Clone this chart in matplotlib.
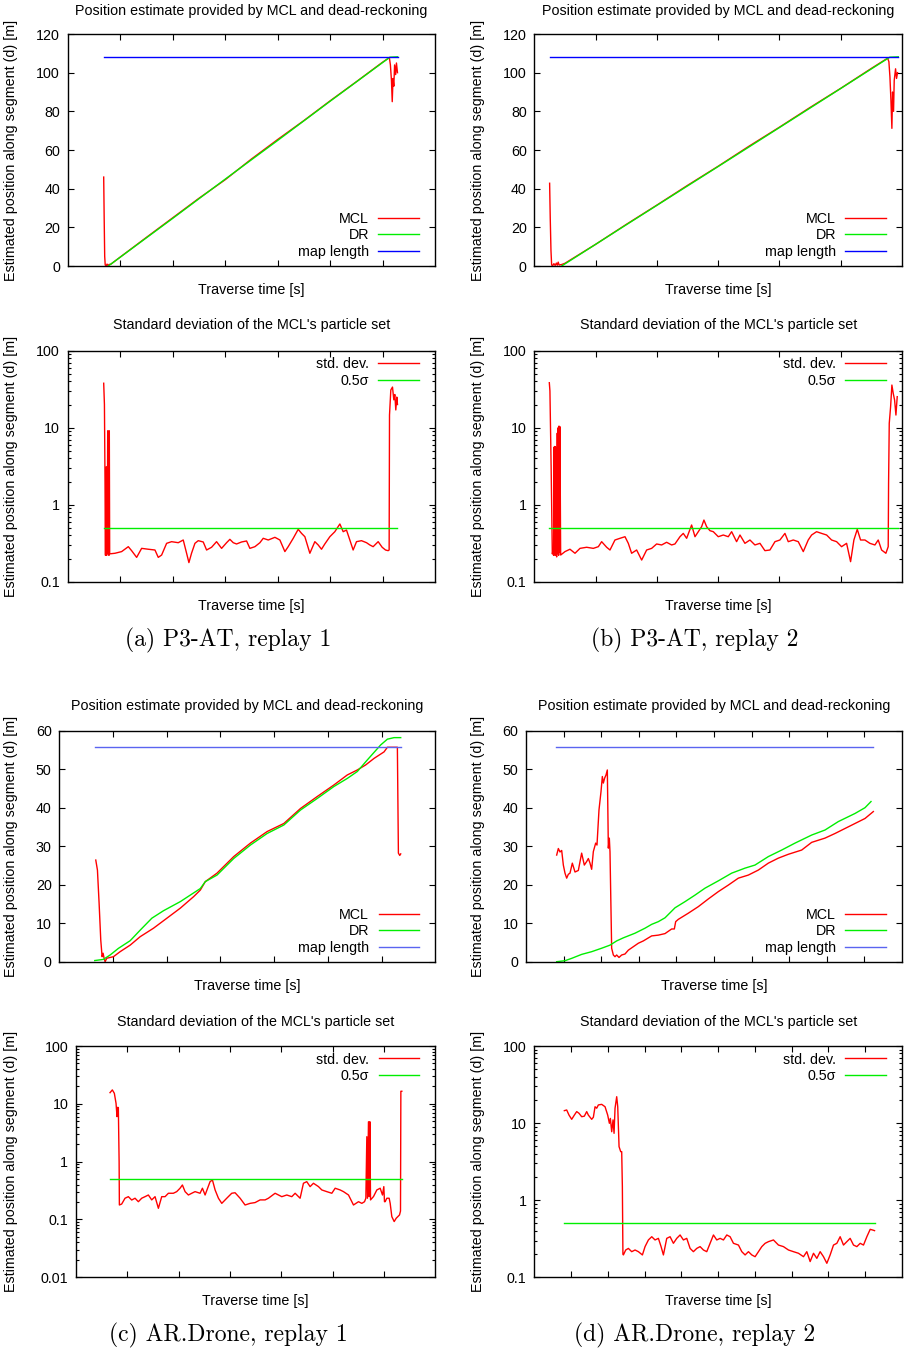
import matplotlib
matplotlib.use("Agg")
import matplotlib.pyplot as plt
from matplotlib.ticker import NullFormatter, LogLocator

plt.rcParams['font.family'] = ['Liberation Sans', 'DejaVu Sans']
plt.rcParams['font.size'] = 10.3

RED = '#ff0000'
GREEN = '#00ee00'
BLUE = '#0000ff'
LBLUE = '#5a64f0'

# ---------------- (a) P3-AT, replay 1 ----------------
a_mcl_t = [6.86, 6.95, 7.05, 7.15, 7.35, 7.5, 7.65, 7.9, 8.2, 10, 15, 20, 25, 30, 35, 40, 45,
           50, 55, 60, 61.3, 61.5, 61.7, 61.85, 62.0, 62.15, 62.3, 62.5, 62.65, 62.85]
a_mcl = [46, 25, 5, 0.5, 0.2, 1.0, 0.3, 0.8, 0.9, 4.6, 14.8, 24.9, 35.0, 44.6, 55.3, 65.4, 75.2,
         85.4, 95.3, 105.4, 107.8, 104, 96, 85, 97, 93, 104, 99, 105, 100]
a_dr_t = [7.74, 20, 30, 40, 50, 61.4, 62.86]
a_dr = [0, 24.6, 44.9, 64.9, 85.2, 108, 108.2]
a_map_t = [6.86, 62.86]
a_map_len = 108.2

a_std_t = [6.86, 7.0, 7.15, 7.2, 7.25, 7.3, 7.36, 7.42, 7.48, 7.55, 7.62, 7.7, 7.78, 7.86, 7.93, 8.0,
           9.01, 10.28, 11.55, 12.18, 13.14, 14.09, 15.36, 16.63, 17.26, 17.9, 18.85, 19.8, 21.07,
           22.02, 22.66, 23.1, 23.6, 24.25, 24.88, 25.83, 26.47, 27.42, 28.37, 29.33, 30.28, 30.91,
           31.55, 32.18, 33.14, 34.09, 34.72, 35.68, 36.63, 37.26, 38.22, 39.49, 40.44, 41.39, 42.02,
           42.98, 43.93, 44.57, 45.2, 46.15, 47.1, 47.74, 48.37, 49.0, 49.96, 50.91, 51.87, 52.5,
           53.13, 53.77, 54.4, 55.04, 55.99, 56.95, 57.58, 58.21, 59.17, 59.93, 60.57, 61.07, 61.26,
           61.33, 61.58, 61.9, 62.15, 62.34, 62.53, 62.72, 62.85]
a_std = [37.8, 20, 0.9, 0.22, 3.0, 0.23, 3.1, 0.22, 3.0, 0.24, 9.1, 0.23, 9.0, 0.22, 9.1, 0.23,
         0.234, 0.246, 0.285, 0.253, 0.207, 0.271, 0.264, 0.258, 0.207, 0.222, 0.315, 0.331, 0.321,
         0.348, 0.234, 0.177, 0.234, 0.315, 0.341, 0.328, 0.258, 0.280, 0.331, 0.271, 0.321, 0.355,
         0.321, 0.309, 0.328, 0.338, 0.271, 0.285, 0.321, 0.366, 0.348, 0.377, 0.348, 0.246, 0.285,
         0.366, 0.479, 0.424, 0.384, 0.234, 0.331, 0.300, 0.264, 0.309, 0.384, 0.446, 0.562, 0.446,
         0.469, 0.348, 0.258, 0.331, 0.341, 0.321, 0.300, 0.285, 0.331, 0.280, 0.258, 0.253, 0.258,
         14.6, 30.9, 33.7, 23, 27, 17, 25, 20]
a_sig_t = [6.86, 62.85]

# ---------------- (b) P3-AT, replay 2 ----------------
b_mcl_t = [2.5, 2.6, 2.72, 2.83, 3.0, 3.2, 3.4, 3.6, 3.75, 3.9, 4.05, 4.5, 5, 10, 15, 20, 25, 30,
           35, 40, 45, 50, 55, 57.65, 57.86, 58.03, 58.19, 58.35, 58.46, 58.62, 58.73, 58.95,
           59.11, 59.27]
b_mcl = [42.8, 25, 8, 0.5, 0.2, 1.2, 0.3, 1.5, 0.4, 2.0, 0.5, 0.8, 1.4, 11.2, 21.5, 31.5, 41.7,
         51.6, 61.9, 71.8, 82.0, 91.9, 102.2, 107.5, 105.7, 97.9, 86, 71.2, 90, 80, 96, 102, 97, 100]
b_dr_t = [4.47, 15, 25, 35, 45, 58.0, 59.4]
b_dr = [0, 21.3, 41.4, 61.5, 81.7, 108, 108.2]
b_map_t = [2.5, 59.4]
b_map_len = 108.2

b_std_t = [2.45, 2.55, 2.75, 2.94, 3.05, 3.15, 3.21, 3.27, 3.33, 3.4, 3.47, 3.55, 3.65, 3.75, 3.82,
           3.9, 3.97, 4.03, 4.1, 4.18, 4.3, 5.01, 5.82, 6.64, 7.46, 8.54, 9.63, 10.45, 10.99, 11.81,
           12.35, 13.16, 13.98, 14.80, 15.34, 15.88, 16.70, 17.52, 18.33, 19.15, 19.96, 20.78,
           21.59, 22.41, 22.95, 23.77, 24.31, 24.86, 25.67, 26.22, 26.76, 27.30, 27.68, 28.12,
           28.66, 29.21, 30.02, 30.84, 31.65, 32.20, 33.01, 33.56, 34.37, 35.19, 36.00, 36.82,
           37.63, 38.45, 39.27, 40.08, 40.90, 41.44, 42.26, 43.07, 43.89, 44.70, 45.25, 46.06,
           46.88, 47.70, 48.51, 49.33, 50.14, 50.96, 51.61, 52.15, 52.70, 53.24, 53.95, 54.76,
           55.58, 56.12, 56.67, 57.37, 57.75, 57.81, 57.92, 58.14, 58.35, 58.57, 58.79, 59.01, 59.22]
b_std = [38.4, 30, 3, 0.23, 0.25, 0.22, 5.6, 0.23, 5.7, 0.22, 5.6, 0.24, 0.21, 8.5, 0.23,
         10.0, 0.22, 10.5, 0.24, 10.3, 0.222, 0.246, 0.264, 0.234, 0.271, 0.280, 0.271, 0.285,
         0.331, 0.280, 0.258, 0.348, 0.366, 0.384, 0.315, 0.234, 0.258, 0.191, 0.258, 0.271,
         0.309, 0.300, 0.325, 0.300, 0.309, 0.384, 0.424, 0.366, 0.545, 0.384, 0.446, 0.518,
         0.632, 0.518, 0.460, 0.446, 0.384, 0.404, 0.384, 0.446, 0.331, 0.404, 0.315, 0.348,
         0.300, 0.315, 0.253, 0.258, 0.331, 0.348, 0.424, 0.331, 0.348, 0.331, 0.246, 0.348,
         0.404, 0.446, 0.424, 0.404, 0.348, 0.331, 0.285, 0.315, 0.182, 0.348, 0.479, 0.348,
         0.348, 0.315, 0.300, 0.348, 0.258, 0.234, 0.285, 1.89, 11.4, 18.7, 35.8, 27.9, 22.9,
         14.6, 25.3]
b_sig_t = [2.45, 59.4]

# ---------------- (c) AR.Drone, replay 1 ----------------
c_mcl_t = [6.79, 7.10, 7.41, 7.72, 7.97, 8.15, 8.34, 8.53, 8.84, 10.08, 11.32, 13.19, 15.06, 17.54,
           20.03, 22.52, 25.01, 26.25, 27.18, 29.36, 32.47, 35.58, 38.69, 41.80, 44.91, 48.02,
           51.12, 53.61, 55.48, 57.03, 58.59, 60.46, 61.08, 62.94, 63.13, 63.38, 63.56]
c_mcl = [26.4, 23.8, 15.2, 5.6, 1.3, 2.2, 0.9, 0.0, 0.9, 1.3, 2.6, 4.3, 6.5, 8.7, 11.3, 13.9,
         16.9, 18.6, 20.8, 23.0, 27.3, 30.8, 33.8, 35.9, 39.8, 42.9, 45.9, 48.5, 49.8, 51.1,
         52.8, 54.5, 55.7, 55.7, 28.2, 27.6, 28.0]
c_dr_t = [6.60, 8.21, 9.46, 11.01, 13.19, 15.06, 17.23, 19.41, 22.52, 26.25, 27.18, 29.36, 32.47,
          35.58, 38.69, 41.80, 44.91, 48.02, 51.12, 53.61, 55.48, 57.34, 59.83, 61.08, 62.32, 63.56]
c_dr = [0.3, 0.6, 1.74, 3.47, 5.45, 8.2, 11.3, 13.25, 15.6, 19.0, 20.8, 22.5, 26.8, 30.3, 33.3,
        35.5, 39.4, 42.4, 45.5, 47.6, 49.4, 52.4, 56.3, 57.8, 58.2, 58.2]
c_map_t = [6.60, 63.56]
c_map_len = 55.8

c_std_t = [6.63, 7.08, 7.47, 7.80, 7.99, 8.12, 8.25, 8.40, 8.45, 8.90, 9.55, 10.20, 10.85, 11.50,
           12.15, 12.80, 13.45, 14.10, 14.75, 15.40, 16.05, 16.70, 17.35, 18.00, 18.97, 19.62,
           20.27, 20.73, 21.25, 21.90, 22.55, 23.20, 24.17, 24.63, 25.15, 26.12, 26.58, 27.10,
           27.75, 28.40, 29.37, 30.34, 30.99, 31.97, 32.94, 33.92, 34.89, 35.87, 36.84, 37.49,
           38.79, 40.09, 41.07, 42.04, 42.69, 43.66, 44.31, 44.96, 45.61, 46.26, 47.24, 47.89,
           48.86, 49.84, 50.49, 51.46, 52.11, 53.09, 54.06, 55.04, 55.69, 56.21, 56.47, 56.66,
           56.79, 56.98, 57.12, 57.25, 57.38, 57.96, 58.61, 59.26, 59.71, 59.97, 60.10, 60.23,
           60.56, 61.01, 61.21, 61.53, 61.99, 62.38, 62.70, 63.03, 63.22, 63.29, 63.48]
c_std = [15.6, 17.4, 15.2, 10.2, 6.0, 8.7, 8.6, 1.0, 0.178, 0.185, 0.233, 0.248, 0.217, 0.233,
         0.203, 0.233, 0.248, 0.265, 0.218, 0.248, 0.156, 0.248, 0.248, 0.284, 0.284, 0.303,
         0.347, 0.395, 0.303, 0.265, 0.284, 0.303, 0.284, 0.347, 0.265, 0.451, 0.482, 0.324,
         0.233, 0.190, 0.233, 0.284, 0.290, 0.233, 0.178, 0.190, 0.196, 0.218, 0.218, 0.233,
         0.284, 0.248, 0.265, 0.248, 0.284, 0.233, 0.423, 0.451, 0.370, 0.423, 0.370, 0.324,
         0.303, 0.284, 0.347, 0.324, 0.303, 0.265, 0.178, 0.203, 0.190, 0.203, 0.233, 2.7,
         0.233, 4.9, 0.249, 4.9, 0.218, 0.249, 0.324, 0.347, 0.265, 0.370, 0.203, 0.203,
         0.233, 0.233, 0.190, 0.112, 0.092, 0.105, 0.112, 0.120, 0.140, 16.5, 16.5]
c_sig_t = [6.63, 63.5]

# ---------------- (d) AR.Drone, replay 2 ----------------
d_mcl_t = [8.16, 8.60, 9.04, 9.49, 9.93, 10.37, 10.82, 11.26, 11.70, 12.32, 13.03, 13.92, 14.80,
           15.51, 16.13, 16.58, 17.02, 17.46, 17.91, 18.53, 18.88, 19.41, 19.95, 20.30, 20.57,
           20.92, 21.28, 21.63, 21.90, 22.16, 22.34, 22.78, 23.23, 23.67, 24.11, 24.73, 25.44,
           26.33, 27.22, 28.55, 29.88, 31.21, 33.42, 35.19, 36.97, 38.74, 39.45, 39.81, 40.51,
           43.17, 45.83, 48.49, 51.15, 53.81, 56.47, 59.13, 61.79, 64.45, 67.11, 69.77, 73.32,
           75.98, 79.52, 82.18, 84.84, 87.50, 90.16, 92.38]
d_mcl = [27.7, 29.4, 28.5, 28.9, 25.1, 23.0, 21.7, 22.7, 23.0, 25.6, 23.3, 23.7, 28.2, 25.1,
         26.0, 26.8, 25.6, 24.0, 28.6, 30.8, 30.3, 39.4, 44.2, 48.1, 46.4, 47.7, 48.5, 49.8,
         29.5, 32.1, 28.5, 3.5, 1.74, 1.3, 1.74, 1.1, 1.74, 2.0, 3.0, 3.9, 4.8, 5.4, 6.7, 6.9,
         7.3, 8.5, 8.5, 10.4, 11.0, 12.6, 14.3, 16.3, 18.2, 19.9, 21.7, 22.5, 23.8, 25.6, 26.9,
         27.9, 29.0, 31.0, 32.1, 33.3, 34.6, 35.9, 37.2, 39.0]
d_dr_t = [8.16, 10.37, 12.15, 14.80, 17.46, 20.12, 22.34, 24.11, 25.89, 28.99, 31.65, 33.42,
          35.19, 36.97, 39.63, 42.29, 44.95, 47.61, 51.15, 54.70, 58.24, 60.90, 64.45, 68.00,
          71.54, 75.98, 79.52, 83.07, 87.50, 90.16, 91.76]
d_dr = [0, 0.26, 0.87, 1.9, 2.6, 3.5, 4.3, 5.4, 6.2, 7.4, 8.7, 9.7, 10.4, 11.4, 14.0, 15.6,
        17.3, 19.1, 21.0, 23.0, 24.3, 25.1, 27.3, 29.0, 30.8, 32.9, 34.2, 36.4, 38.5, 40.0, 41.6]
d_map_t = [8.0, 92.4]
d_map_len = 55.8

d_std_t = [8.17, 8.81, 9.44, 10.17, 10.89, 11.53, 12.16, 12.89, 13.61, 14.25, 14.70, 15.61,
           16.06, 16.52, 16.97, 17.42, 18.33, 19.24, 19.96, 20.42, 20.69, 21.05, 21.41, 21.69,
           21.96, 22.41, 22.69, 23.05, 23.50, 23.77, 23.95, 24.1, 24.23, 24.86, 25.59, 26.49,
           27.40, 28.31, 29.40, 30.12, 31.03, 31.94, 32.84, 33.75, 34.48, 35.11, 36.02, 36.93,
           37.83, 38.74, 39.65, 40.55, 41.46, 42.37, 43.27, 44.18, 45.09, 46.00, 46.90, 47.81,
           48.72, 49.62, 50.53, 51.44, 52.35, 53.25, 54.16, 55.52, 56.43, 57.33, 58.24, 59.15,
           60.05, 60.96, 61.87, 62.78, 63.68, 65.04, 66.40, 67.76, 69.12, 70.48, 71.84, 73.21,
           74.11, 75.02, 75.93, 76.84, 77.74, 78.65, 79.56, 80.46, 81.37, 82.28, 83.18, 84.09,
           85.00, 85.90, 86.81, 87.72, 88.63, 89.53, 90.44, 91.35, 91.98, 92.53]
d_std = [14.5, 14.8, 12.7, 11.2, 12.7, 14.1, 13.4, 12.1, 12.3, 14.1, 12.7, 11.2, 11.9, 16.3,
         15.6, 17.2, 17.5, 16.3, 12.7, 9.94, 11.5, 7.73, 11.0, 7.37, 15.6, 22.0, 16.3, 4.95,
         4.26, 4.26, 1.5, 0.2, 0.195, 0.226, 0.237, 0.215, 0.226, 0.215, 0.195, 0.250, 0.305,
         0.336, 0.305, 0.320, 0.250, 0.195, 0.320, 0.336, 0.276, 0.320, 0.354, 0.305, 0.320,
         0.237, 0.215, 0.237, 0.250, 0.226, 0.215, 0.276, 0.354, 0.305, 0.320, 0.305, 0.354,
         0.336, 0.276, 0.262, 0.215, 0.195, 0.215, 0.195, 0.185, 0.215, 0.250, 0.276, 0.290,
         0.305, 0.262, 0.250, 0.226, 0.215, 0.205, 0.185, 0.215, 0.160, 0.205, 0.176, 0.215,
         0.185, 0.152, 0.195, 0.262, 0.276, 0.336, 0.262, 0.290, 0.320, 0.262, 0.250, 0.276,
         0.262, 0.336, 0.419, 0.411, 0.403]
d_sig_t = [8.17, 92.53]

half_sigma = 0.5

POS_TITLE = "Position estimate provided by MCL and dead-reckoning"
STD_TITLE = "Standard deviation of the MCL's particle set"
XLABEL = "Traverse time [s]"
YLABEL = "Estimated position along segment (d) [m]"

W, H = 905, 1351
fig = plt.figure(figsize=(W / 100, H / 100), dpi=100)


def px_axes(l, t, r, b):
    return fig.add_axes([l / W, 1 - b / H, (r - l) / W, (b - t) / H])


def frame(ax, xmax, l, t, r, b, title, ylab_x, title_base):
    ax.set_xlim(0, xmax)
    ax.set_xticks(range(10, xmax, 10))
    ax.tick_params(which='both', direction='in', top=True, right=True,
                   labelbottom=False, width=0.8, labelsize=10.3)
    ax.tick_params(which='major', length=4.5, pad=5.5)
    ax.tick_params(which='minor', length=2.5)
    for s in ax.spines.values():
        s.set_linewidth(1.0)
    cx = (l + r) / 2
    fig.text(cx / W, 1 - title_base / H, title, ha='center', va='baseline', fontsize=10.3)
    fig.text(cx / W, 1 - (b + 28) / H, XLABEL, ha='center', va='baseline', fontsize=10.3)
    fig.text(ylab_x / W, 1 - (t + b) / 2 / H, YLABEL, rotation=90,
             ha='center', va='center', fontsize=10.3)


def key(ax, l, t, r, b, upper):
    w, h = r - l, b - t
    if upper:
        anchor, loc = (1 - 16 / w, 1 - 6.5 / h), 'upper right'
    else:
        anchor, loc = (1 - 16 / w, 7.0 / h), 'lower right'
    ax.legend(loc=loc, bbox_to_anchor=anchor, frameon=False, markerfirst=False,
              handlelength=2.85, handletextpad=0.65, labelspacing=0.18,
              borderpad=0, borderaxespad=0, fontsize=10.3)


def position_panel(box, xmax, ymax, ystep, mcl_t, mcl, dr_t, dr, map_t, map_len, mapcol,
                   ylab_x, title_base):
    l, t, r, b = box
    ax = px_axes(l, t, r, b)
    ax.plot(mcl_t, mcl, color=RED, lw=1.0, label='MCL')
    ax.plot(dr_t, dr, color=GREEN, lw=1.0, label='DR')
    ax.plot(map_t, [map_len, map_len], color=mapcol, lw=1.0, label='map length')
    ax.set_ylim(0, ymax)
    ax.set_yticks(range(0, ymax + 1, ystep))
    frame(ax, xmax, l, t, r, b, POS_TITLE, ylab_x, title_base)
    key(ax, l, t, r, b, upper=False)
    return ax


def std_panel(box, xmax, ylo, std_t, std, sig_t, ylab_x, title_base):
    l, t, r, b = box
    ax = px_axes(l, t, r, b)
    ax.plot(std_t, std, color=RED, lw=1.0, label='std. dev.')
    ax.plot(sig_t, [half_sigma, half_sigma], color=GREEN, lw=1.0, label='0.5σ')
    ax.set_yscale('log')
    ax.set_ylim(ylo, 100)
    decades = [v for v in [0.01, 0.1, 1, 10, 100] if v >= ylo]
    ax.set_yticks(decades, [f"{v:g}" for v in decades])
    ax.yaxis.set_minor_locator(LogLocator(base=10, subs=range(2, 10), numticks=20))
    ax.yaxis.set_minor_formatter(NullFormatter())
    frame(ax, xmax, l, t, r, b, STD_TITLE, ylab_x, title_base)
    key(ax, l, t, r, b, upper=True)
    return ax


# (a)
position_panel((67.7, 34, 435, 266), 70, 120, 20, a_mcl_t, a_mcl, a_dr_t, a_dr,
               a_map_t, a_map_len, BLUE, 11, 14.7)
std_panel((67.7, 350.7, 435, 581.7), 70, 0.1, a_std_t, a_std, a_sig_t, 11, 329)
# (b)
position_panel((534.3, 34, 902, 266), 60, 120, 20, b_mcl_t, b_mcl, b_dr_t, b_dr,
               b_map_t, b_map_len, BLUE, 477.5, 14.7)
std_panel((534.3, 350.7, 902, 581.7), 60, 0.1, b_std_t, b_std, b_sig_t, 477.5, 329)
# (c)
position_panel((59.3, 730.7, 435.3, 961.7), 70, 60, 10, c_mcl_t, c_mcl, c_dr_t, c_dr,
               c_map_t, c_map_len, LBLUE, 11, 710)
std_panel((76, 1046, 435.3, 1277.3), 70, 0.01, c_std_t, c_std, c_sig_t, 11, 1026)
# (d)
position_panel((526, 730.7, 902, 961.7), 100, 60, 10, d_mcl_t, d_mcl, d_dr_t, d_dr,
               d_map_t, d_map_len, LBLUE, 477.5, 710)
std_panel((534.3, 1046, 902, 1277.3), 100, 0.1, d_std_t, d_std, d_sig_t, 477.5, 1026)

captions = ["(a) P3-AT, replay 1", "(b) P3-AT, replay 2",
            "(c) AR.Drone, replay 1", "(d) AR.Drone, replay 2"]
cap_pos = [(228, 646), (695, 646), (228, 1341), (695, 1341)]
for txt, (x, y) in zip(captions, cap_pos):
    fig.text(x / W, 1 - y / H, txt, ha='center', va='baseline',
             fontfamily='cmr10', fontsize=17)

fig.savefig("out.png", dpi=100)
